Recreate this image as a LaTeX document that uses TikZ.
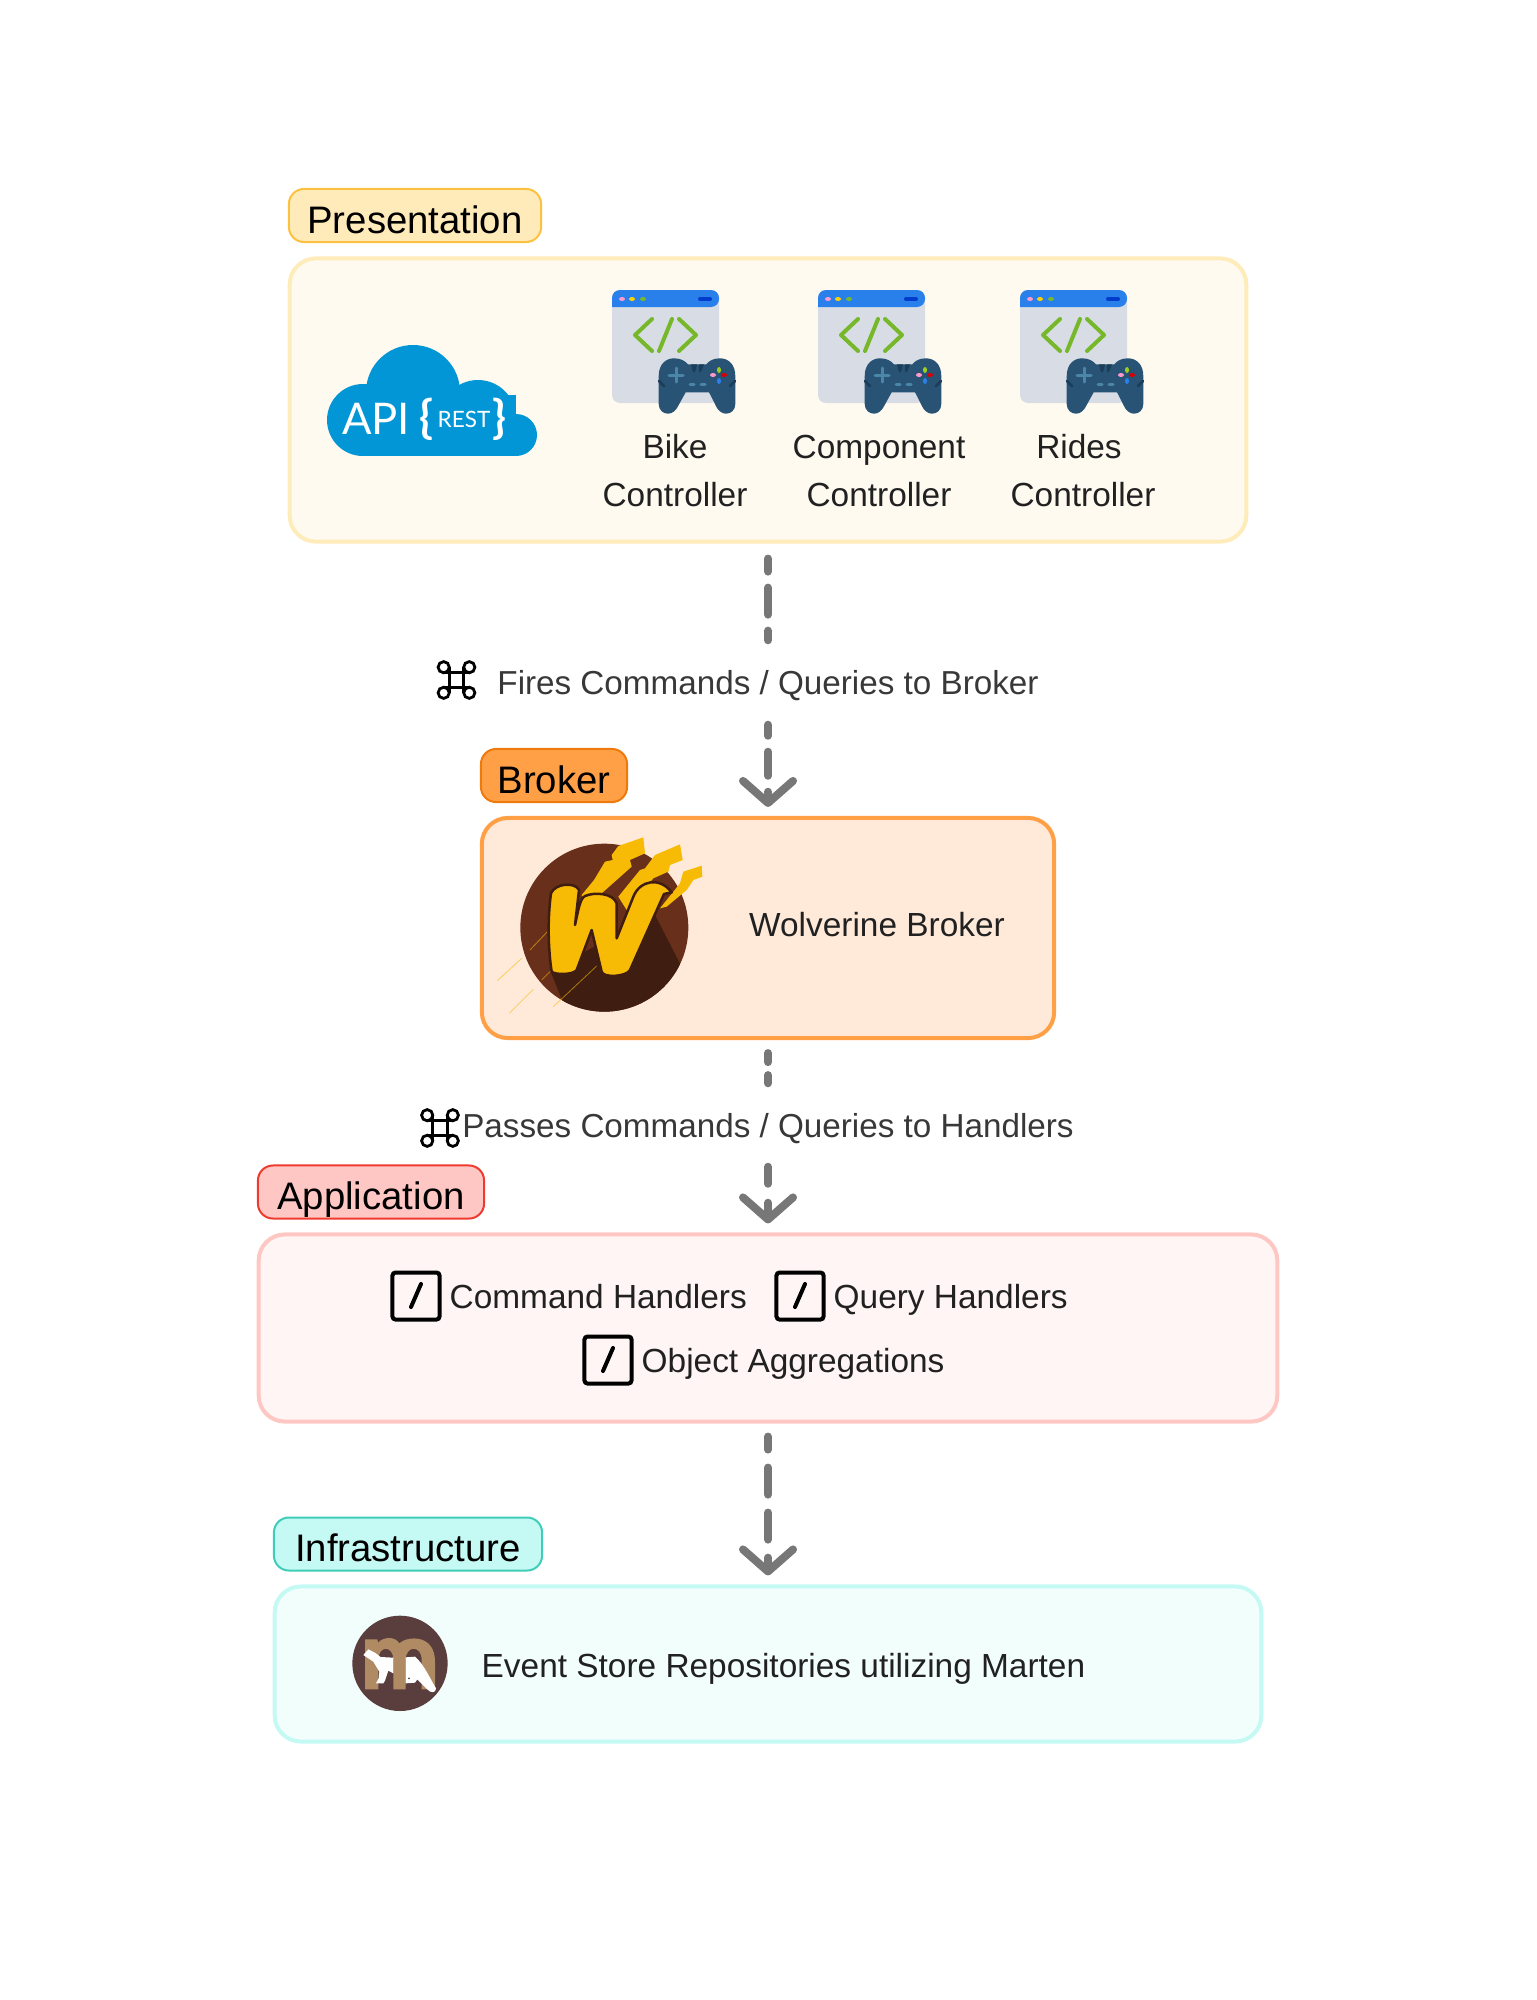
\documentclass[tikz,border=0pt]{standalone}
\usepackage{fontspec}
\usepackage{xcolor}
\usepackage{tikz}
\usetikzlibrary{arrows.meta}
\setmainfont{Liberation Sans}
\newfontfamily\cloudfont{Lato}
\definecolor{preslabel}{HTML}{FFEBBA}
\definecolor{presedge}{HTML}{FEC13F}
\definecolor{presfill}{HTML}{FFFAF0}
\definecolor{presline}{HTML}{FFECBB}
\definecolor{brokerlabel}{HTML}{FF9F46}
\definecolor{brokeredge}{HTML}{EE7A0D}
\definecolor{brokerfill}{HTML}{FFEADA}
\definecolor{applabel}{HTML}{FFC7C4}
\definecolor{appedge}{HTML}{EE3A2F}
\definecolor{appfill}{HTML}{FFF5F4}
\definecolor{infralabel}{HTML}{C5FAF4}
\definecolor{infraedge}{HTML}{3FCDB9}
\definecolor{infrafill}{HTML}{F2FEFC}
\definecolor{flowgray}{HTML}{777777}
\definecolor{cloudblue}{HTML}{0396D6}
\definecolor{windowgray}{HTML}{D8DCE5}
\definecolor{windowblue}{HTML}{2A80EA}
\definecolor{codegreen}{HTML}{76B82A}
\definecolor{padblue}{HTML}{285374}
\definecolor{paddark}{HTML}{1C3D57}
\definecolor{padlight}{HTML}{4A86A8}
\definecolor{wolfbrown}{HTML}{682F1A}
\definecolor{wolfdark}{HTML}{3F1D10}
\definecolor{wolfyellow}{HTML}{F8BB05}
\definecolor{martenbrown}{HTML}{5A3D3D}
\definecolor{martentan}{HTML}{B08A63}
\tikzset{
  tagbox/.style={draw, line width=0.02cm, rounded corners=0.15cm, minimum height=0.53cm, inner sep=0pt, text=black, text height=0.35cm, text depth=0pt, font=\fontsize{10.9pt}{13pt}\selectfont},
  layerbox/.style={draw, line width=0.04cm, rounded corners=0.26cm, inner sep=0pt},
  bodytext/.style={inner sep=0pt, text=black!87, font=\fontsize{9.5pt}{13.66pt}\selectfont},
  rowtext/.style={bodytext, text height=0.22cm, text depth=0pt},
  flownote/.style={inner sep=0pt, text=black!78, text height=0.23cm, text depth=0pt, font=\fontsize{9.45pt}{13.66pt}\selectfont},
  flowline/.style={draw=flowgray, line width=0.08cm, line cap=round},
  flowtip/.style={-{Straight Barb[round,length=0.22cm,width=0.50cm,line width=0.08cm]}},
  keybox/.style={draw=black, line width=0.04cm, rounded corners=0.03cm, minimum size=0.47cm, inner sep=0pt},
  keyslash/.style={draw=black, line width=0.04cm, line cap=round},
  %Controller icon, window corner at the pic origin
  ctrlicon/.pic={
    \fill[windowgray,rounded corners=0.08cm] (0,0) rectangle (107,113);
    \fill[windowblue,rounded corners=0.08cm] (0,17) -- (0,0) -- (107,0) -- (107,17) [sharp corners] -- cycle;
    \fill[pink!80!magenta] (10,9) ellipse (3 and 2);
    \fill[yellow!70!orange] (20,9) ellipse (3 and 2);
    \fill[codegreen] (31,9) ellipse (3 and 2);
    \draw[blue!70!cyan!80!black,line width=0.04cm,line cap=round] (88,9) -- (98,9);
    \draw[codegreen,line width=0.04cm,line cap=round,line join=round] (40,29) -- (23,45) -- (40,61);
    \draw[codegreen,line width=0.04cm,line cap=round] (60,29) -- (47,61);
    \draw[codegreen,line width=0.04cm,line cap=round,line join=round] (67,29) -- (84,45) -- (67,61);
    \fill[padblue] (46.7,86) .. controls (46.7,74) and (54,68.3) .. (62,68.3) .. controls (69,68.3) and (73,71) .. (76,74.3) -- (94.3,74.3) .. controls (97,71) and (101,68.3) .. (108,68.3) .. controls (116,68.3) and (123.3,74) .. (123.3,86) -- (123.3,114) .. controls (123.3,120) and (119,123.7) .. (114,123.7) .. controls (110,123.7) and (107,121) .. (105,118) -- (97,102.3) -- (73.7,102.3) -- (65,118) .. controls (63,121) and (60,123.7) .. (56,123.7) .. controls (51,123.7) and (46.7,120) .. (46.7,114) -- cycle;
    \fill[paddark] (79,74.3) -- (85,74.3) -- (83,82) -- (81,82) -- cycle;
    \fill[paddark] (87,74.3) -- (92,74.3) -- (89,82) -- (87,82) -- cycle;
    \draw[paddark,line width=0.025cm,line cap=round] (47,91) -- (52,96);
    \draw[paddark,line width=0.025cm,line cap=round] (123,91) -- (118,96);
    \draw[padlight,line width=0.03cm,line cap=round] (57,85) -- (71,85) (64,78) -- (64,92);
    \draw[padlight,line width=0.03cm,line cap=round] (78,94) -- (82,94) (89,94) -- (93,94);
    \fill[codegreen!70!yellow] (107,80) ellipse (2 and 3);
    \fill[red!85!black] (112,85) ellipse (3 and 2);
    \fill[windowblue] (107,91) ellipse (2 and 3);
    \fill[pink!80!magenta] (101,85) ellipse (3 and 2);
  },
  %Shortcut key with a slash
  keyicon/.pic={
    \node[keybox] (-box) at (0,0) {};
    \draw[keyslash] (5,-12) -- (-5,11);
  },
  %Looped command glyph
  cmdglyph/.pic={
    \draw[black,line width=0.028cm] (-7.2,-12.8) -- (-7.2,12.8) (7.2,-12.8) -- (7.2,12.8) (-12.8,-7.2) -- (12.8,-7.2) (-12.8,7.2) -- (12.8,7.2);
    \draw[black,line width=0.028cm] (-12.8,-12.8) circle (5.6) (12.8,-12.8) circle (5.6) (-12.8,12.8) circle (5.6) (12.8,12.8) circle (5.6);
  }
}

\begin{document}
\begin{tikzpicture}[x=0.01cm,y=-0.01cm]
\useasboundingbox (0,0) rectangle (1536,2000);

%Presentation layer
\node[tagbox, fill=preslabel, draw=presedge, minimum width=2.52cm] (preslabelnode) at (415,215.5) {Presentation};
\node[layerbox, fill=presfill, draw=presline, minimum width=9.56cm, minimum height=2.83cm] (presbox) at (768,400) {};

%REST cloud
\fill[cloudblue] (413,392) circle (47);
\fill[cloudblue] (363,420) circle (36);
\fill[cloudblue] (478,418) circle (38);
\fill[cloudblue] (516,435) circle (21);
\fill[cloudblue] (363,395) rectangle (516,456);
\node[inner sep=0pt, text=white, font=\cloudfont\fontsize{12.4pt}{14pt}\selectfont] (apitext) at (376,419) {API};
\node[inner sep=0pt, text=white, font=\cloudfont\bfseries\fontsize{13pt}{14pt}\selectfont] (openbrace) at (426,419) {\{};
\node[inner sep=0pt, text=white, font=\cloudfont\fontsize{6.4pt}{8pt}\selectfont] (resttext) at (464,419) {REST};
\node[inner sep=0pt, text=white, font=\cloudfont\bfseries\fontsize{13pt}{14pt}\selectfont] (closebrace) at (499,419) {\}};

%Controller 1
\pic at (612,290) {ctrlicon};
\node[bodytext, align=center] (bikectrl) at (675,471) {Bike\\Controller};

%Controller 2
\pic at (818,290) {ctrlicon};
\node[bodytext, align=center] (compctrl) at (879,471) {Component\\Controller};

%Controller 3
\pic at (1020,290) {ctrlicon};
\node[bodytext, align=center] (ridesctrl) at (1083,471) {Rides\rule{0.08cm}{0pt}\\Controller};

%Note between presentation and broker
\node[flownote, minimum height=0.76cm] (firesnote) at (768,683) {Fires Commands / Queries to Broker};
\pic at (456.5,680) {cmdglyph};

%Broker layer
\node[tagbox, fill=brokerlabel, draw=brokeredge, minimum width=1.46cm] (brokerlabelnode) at (554,775.5) {Broker};
\node[layerbox, fill=brokerfill, draw=brokerlabel, minimum width=5.72cm, minimum height=2.20cm] (brokerbox) at (768,928) {};
\node[rowtext] (wolverinetext) at (877,925) {Wolverine Broker};

%Wolverine logo
\begin{scope}[shift={(470,720)},scale=0.33333]
\fill[wolfbrown] (403,623) circle (252);
\begin{scope}
\clip (403,623) circle (252);
\fill[wolfdark] (555,585) -- (650,770) -- (650,900) -- (300,900) -- (240,750) -- cycle;
\end{scope}
\draw[wolfyellow,line width=0.008cm,opacity=0.6] (82,782) -- (155,715) (118,880) -- (190,808) (180,690) -- (232,635) (215,780) -- (243,752) (250,860) -- (380,738);
\fill[wolfyellow] (335,525) -- (372,480) -- (405,425) -- (428,420) -- (425,405) -- (445,378) -- (520,352) -- (525,400) -- (480,420) -- (485,440) -- (350,560) -- cycle;
\fill[wolfyellow] (445,530) -- (510,450) -- (525,445) -- (555,405) -- (630,373) -- (638,420) -- (600,435) -- (595,455) -- (550,475) -- (470,570) -- cycle;
\fill[wolfyellow] (570,565) -- (610,515) -- (630,490) -- (640,455) -- (695,437) -- (697,470) -- (670,480) -- (650,510) -- (590,560) -- cycle;
\filldraw[fill=wolfyellow,draw=wolfdark,line width=0.025cm,line join=round] (243,520) .. controls (255,490) and (315,485) .. (327,510) -- (315,615) .. controls (325,570) and (330,535) .. (345,528) .. controls (375,515) and (430,520) .. (440,550) -- (440,655) -- (490,530) .. controls (510,480) and (570,470) .. (605,517) -- (582,522) -- (480,750) .. controls (470,770) and (400,775) .. (395,755) -- (365,630) -- (320,750) .. controls (310,765) and (255,765) .. (245,755) .. controls (235,690) and (232,600) .. (243,520) -- cycle;
\end{scope}

%Note between broker and application
\node[flownote, minimum height=0.80cm] (passesnote) at (768,1126) {Passes Commands / Queries to Handlers};
\pic at (440,1128) {cmdglyph};

%Application layer
\node[tagbox, fill=applabel, draw=appedge, minimum width=2.26cm] (applabelnode) at (371,1192) {Application};
\node[layerbox, fill=appfill, draw=applabel, minimum width=10.18cm, minimum height=1.87cm] (appbox) at (768,1328) {};
\pic (cmdkey) at (416,1296) {keyicon};
\node[rowtext, anchor=west] (cmdtext) at (449,1297) {Command Handlers};
\pic (querykey) at (800,1296) {keyicon};
\node[rowtext, anchor=west] (querytext) at (833,1297) {Query Handlers};
\pic (objkey) at (608,1360) {keyicon};
\node[rowtext, anchor=west] (objtext) at (641,1361) {Object Aggregations};

%Infrastructure layer
\node[tagbox, fill=infralabel, draw=infraedge, minimum width=2.68cm] (infralabelnode) at (408,1544) {Infrastructure};
\node[layerbox, fill=infrafill, draw=infralabel, minimum width=9.86cm, minimum height=1.55cm] (infrabox) at (768,1664) {};
\node[rowtext, anchor=west] (eventtext) at (481,1666) {Event Store Repositories utilizing Marten};

%Marten logo
\begin{scope}[shift={(340,1610)},scale=0.33333]
\fill[martenbrown] (180,160) circle (143);
\fill[martentan] (75,88) -- (112,88) -- (114,98) .. controls (130,80) and (165,78) .. (178,100) .. controls (200,78) and (285,70) .. (285,155) -- (285,238) -- (245,238) -- (245,150) .. controls (245,105) and (197,105) .. (197,150) -- (197,238) -- (160,238) -- (160,150) .. controls (160,105) and (115,105) .. (115,150) -- (115,238) -- (75,238) -- cycle;
\fill[white] (70,135) -- (85,118) -- (105,128) -- (122,141) -- (160,143) -- (160,190) -- (145,182) -- (135,212) -- (130,220) -- (108,220) -- (116,205) -- (118,185) -- (100,155) -- cycle;
\fill[white] (197,142) -- (225,140) .. controls (250,160) and (270,205) .. (288,235) .. controls (288,250) and (272,250) .. (262,238) -- (232,208) -- (225,218) -- (197,220) -- cycle;
\fill[martenbrown] (207,205) circle (3);
\end{scope}

%Flows between the layers
\draw[flowline, dash pattern=on 0.27cm off 0.16cm, dash phase=0.14cm, shorten <=0.15cm, shorten >=0.04cm] (presbox.south) -- (firesnote.north);
\draw[flowline, flowtip, dash pattern=on 0.24cm off 0.16cm, dash phase=0.13cm, shorten <=0.03cm, shorten >=0.09cm] (firesnote.south) -- (brokerbox.north);
\draw[flowline, dash pattern=on 0.09cm off 0.13cm, shorten <=0.13cm, shorten >=0.02cm] (brokerbox.south) -- (passesnote.north);
\draw[flowline, flowtip, dash pattern=on 0.17cm off 0.19cm, shorten <=0cm, shorten >=0.09cm] (passesnote.south) -- (appbox.north);
\draw[flowline, flowtip, dash pattern=on 0.27cm off 0.18cm, dash phase=0.14cm, shorten <=0.13cm, shorten >=0.09cm] (appbox.south) -- (infrabox.north);
\end{tikzpicture}
\end{document}
